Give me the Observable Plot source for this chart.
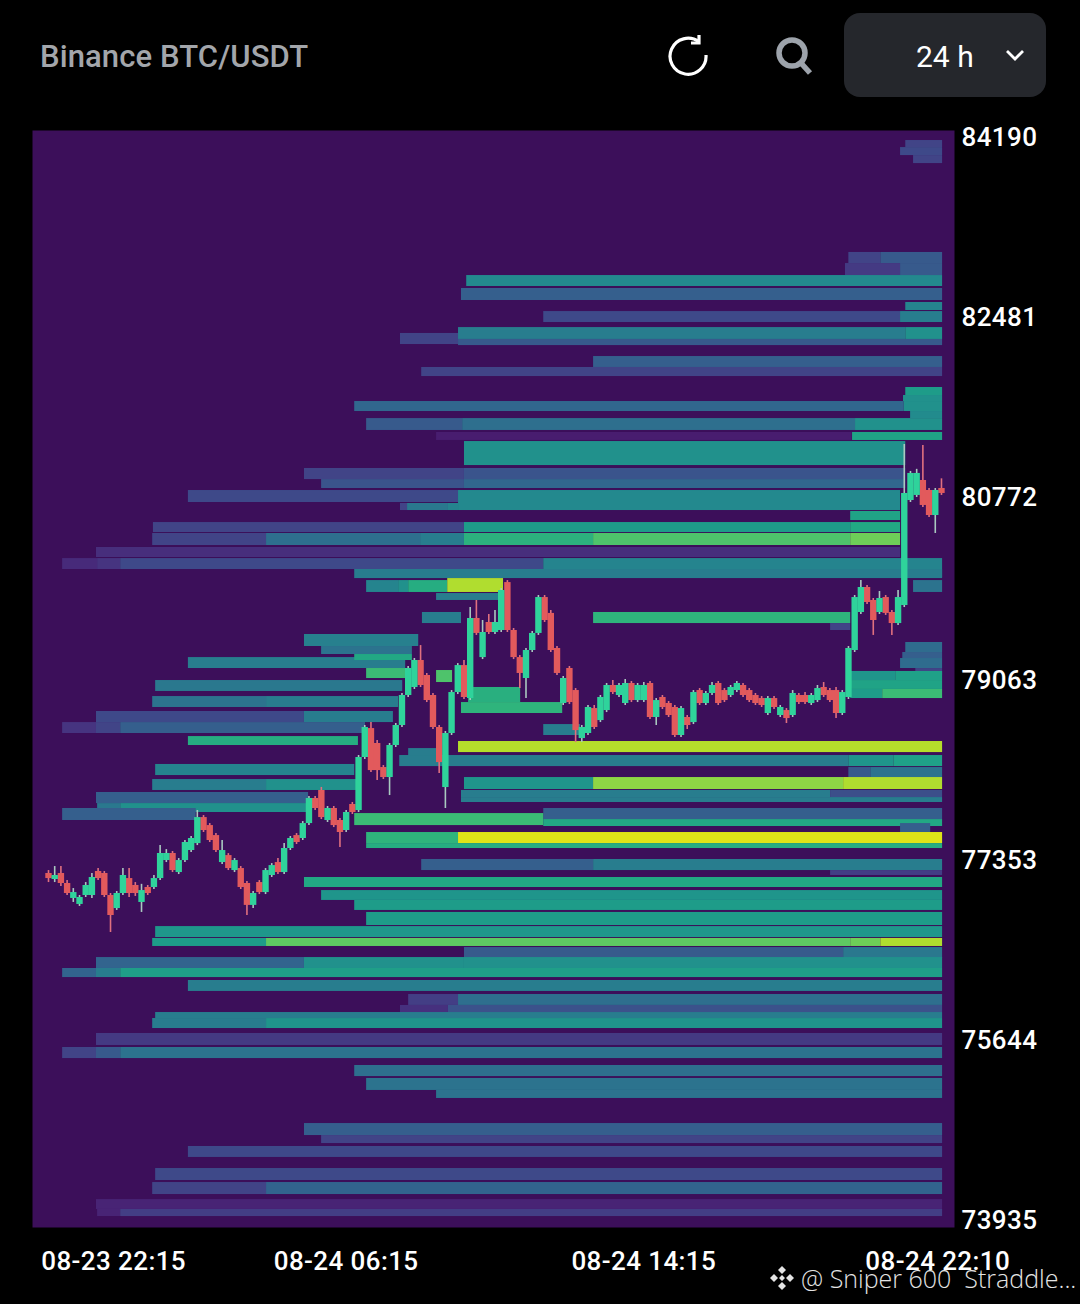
<!DOCTYPE html>
<html><head><meta charset="utf-8">
<script src="https://cdn.jsdelivr.net/npm/d3@7"></script>
<script src="https://cdn.jsdelivr.net/npm/@observablehq/plot@0.6"></script>
<style>
html,body{margin:0;padding:0;background:#000;width:1080px;height:1304px;overflow:hidden}
#page{position:relative;width:1080px;height:1304px;font-family:Roboto,sans-serif}
#head{position:relative;height:130px}
#title{position:absolute;left:40px;top:38px;font-size:31px;line-height:38px;font-weight:500;color:#a3a6ab;letter-spacing:.1px}
#btn{position:absolute;left:844px;top:13px;width:202px;height:84px;background:#25272c;border-radius:16px;color:#fff}
#btn span{position:absolute;left:72px;top:26px;font-size:30px;line-height:36px}
#wm{position:absolute;left:768px;top:1262px;color:#e4e4e4;font:300 25px/32px "Open Sans",sans-serif;white-space:pre;display:flex;align-items:center}
svg{display:block}
</style></head><body>
<div id="page">
<div id="head">
<div id="title">Binance BTC/USDT</div>
<svg style="position:absolute;left:666px;top:33px" width="44" height="44" viewBox="0 0 44 44" fill="none" stroke="#fff" stroke-width="3.2"><path d="M33 9A18 18 0 1 0 40 22"/><path d="M33 2V10H25"/></svg>
<svg style="position:absolute;left:774px;top:35px" width="40" height="42" viewBox="0 0 40 42" fill="none" stroke="#9da3ab" stroke-width="5.5"><circle cx="18" cy="18" r="13"/><path d="M27 28L36 38"/></svg>
<div id="btn"><span>24 h</span><svg style="position:absolute;left:160px;top:36px" width="22" height="14" viewBox="0 0 22 14" fill="none" stroke="#fff" stroke-width="2.8"><path d="M3 2L11 10L19 2"/></svg></div>
</div>
<div id="chart"></div>
<div id="wm"><svg width="28" height="28" viewBox="0 0 28 28" fill="#e4e4e4"><path d="M14 2l4 4-4 4-4-4zM6 10l4 4-4 4-4-4zM22 10l4 4-4 4-4-4zM14 18l4 4-4 4-4-4zM14 11l3 3-3 3-3-3z"/></svg><span style="margin-left:5px">@ Sniper 600  Straddle...</span></div>
</div>
<script>
// x = hours after 08-23 22:15, y = BTC price in USDT.
const priceTickLabels = ["84190", "82481", "80772", "79063", "77353", "75644", "73935"];
const priceTickPlaces = [84190, 82481, 80772, 79035, 77326, 75617, 73908];
const timeTickHours = [1.75, 8, 16, 23.9];
const timeTickLabels = ["08-23 22:15", "08-24 06:15", "08-24 14:15", "08-24 22:10"];

// Liquidity bands: [start hour, end hour, low price, high price, intensity 0..1]
const bandsHigh = [
[23.04,24.03,84095,84162,.2],[22.9,24.03,84019,84095,.22],[23.25,24.03,83943,84019,.2],
[21.51,22.37,82994,83099,.2],[22.37,24.03,82994,83099,.28],
[21.42,22.9,82880,82994,.17],[22.9,24.03,82880,82994,.28],
[11.24,24.03,82776,82880,.47],[11.1,24.03,82643,82757,.3],
[23.04,24.03,82548,82624,.45],
[13.31,22.9,82434,82538,.22],[22.9,24.03,82434,82538,.42],
[9.46,11.02,82225,82330,.2],
[11.02,23.04,82273,82386,.42],[23.04,24.03,82273,82386,.5],
[11.02,24.03,82215,82273,.28],
[14.65,24.03,82007,82111,.3],[10.03,24.03,81921,82007,.2],
[23.04,24.03,81741,81817,.55],[22.98,24.03,81684,81741,.5],
[8.23,23,81589,81684,.33],[23,24.03,81589,81684,.5],
[23.17,24.03,81522,81589,.48],
[8.55,11.13,81409,81522,.28],[11.13,21.69,81409,81522,.36],[21.69,24.03,81409,81522,.5],
[10.43,21.6,81314,81390,.08],[21.61,24.03,81314,81390,.58]
];
const bandsUpperMid = [
[11.18,23.04,81076,81304,.5],
[6.88,11.18,80943,81048,.2],[11.18,23.04,80943,81048,.26],
[7.34,11.18,80858,80943,.26],[11.18,23.04,80858,80943,.33],
[3.76,11.02,80725,80839,.22],[11.02,22.9,80649,80839,.47],
[9.46,9.65,80649,80716,.2],[9.65,10.75,80649,80716,.4],[10.75,11.02,80649,80716,.45],
[21.56,22.9,80554,80640,.58],
[2.82,11.18,80440,80535,.2],[11.18,21.56,80440,80535,.55],[21.56,22.9,80440,80535,.6],
[2.8,5.86,80317,80431,.2],[5.86,10,80317,80431,.36],[10,11.18,80317,80431,.42],[11.18,14.65,80317,80431,.64],[14.65,21.56,80317,80431,.72],[21.56,22.9,80317,80431,.78],
[1.29,22.9,80203,80298,.13],
[.38,1.32,80089,80193,.12],[1.32,1.94,80089,80193,.15],[1.94,13.31,80089,80193,.22],[13.31,24.03,80013,80193,.45],
[8.23,24.03,80003,80089,.42],
[8.55,9.41,79871,79984,.45],[9.41,9.68,79871,79984,.5],[9.68,10.73,79871,79984,.62],[10.73,12.23,79871,80003,.88],
[23.25,24.03,79871,79984,.38],
[10.43,12.15,79795,79861,.42],
[14.65,21.56,79576,79681,.65],[10.05,11.1,79576,79681,.42],
[21.02,21.56,79510,79576,.2]
];
const bandsMid = [
[6.88,9.95,79358,79472,.43],[7.34,9.78,79282,79358,.38],
[3.76,9.6,79149,79253,.42],[8.23,9.78,79225,79282,.6],
[8.55,9.6,79054,79149,.68],[10.43,10.86,79016,79130,.72],
[23.04,24.03,79301,79396,.35],[22.96,24.03,79244,79301,.3],[22.9,24.03,79149,79244,.35],[23.31,24.03,79083,79149,.2],
[2.88,9.52,78931,79035,.4],
[21.56,22.77,79035,79121,.52],[22.77,24.03,79035,79121,.57],
[21.56,24.03,78950,79035,.58],
[21.56,22.42,78864,78950,.55],[22.42,24.03,78864,78950,.68],
[11.29,12.69,78826,78969,.63],[11.1,13.82,78722,78826,.65],
[2.8,5.86,78779,78883,.38],[5.86,9.41,78779,78883,.42],
[1.29,6.88,78636,78741,.22],[6.88,9.27,78636,78741,.42],
[.38,1.29,78532,78636,.15],[1.29,1.94,78532,78636,.2],[1.94,8.52,78532,78636,.3],
[13.31,14.3,78513,78617,.42],
[3.76,8.33,78418,78503,.62],
[11.02,24.03,78351,78456,.89],
[9.68,10.54,78304,78389,.42],
[9.44,21.51,78218,78323,.42],[21.51,22.72,78218,78323,.52],[22.72,24.03,78218,78323,.57],
[2.88,8.23,78133,78238,.45],
[21.51,22.1,78114,78209,.28],[22.1,24.03,78114,78209,.38]
];
const bandsLowerMid = [
[11.18,14.65,78000,78114,.52],[14.65,21.37,78000,78114,.83],[21.37,24.03,78000,78114,.88],
[2.8,5.86,77991,78095,.42],[5.86,8.39,77991,78095,.5],
[11.1,21.02,77924,77991,.42],[21.02,24.03,77924,77991,.24],
[11.1,24.03,77877,77924,.42],
[1.29,6.99,77867,77972,.3],
[1.32,1.94,77782,77867,.4],[1.94,6.99,77782,77867,.5],
[.38,3.97,77706,77820,.3],[13.31,24.03,77715,77820,.3],
[8.23,13.31,77658,77772,.68],[13.31,24.03,77649,77715,.6],
[22.9,23.71,77573,77677,.3],
[8.55,11.02,77487,77592,.65],[11.02,24.03,77487,77592,.95],
[8.55,24.03,77440,77487,.62],
[10.03,14.65,77231,77336,.3],[14.65,24.03,77231,77336,.42],
[21.02,24.03,77184,77231,.18],
[6.88,24.03,77070,77165,.6],[7.34,24.03,76947,77041,.52],[8.23,24.03,76852,76947,.55],[8.55,24.03,76709,76833,.55],
[2.88,24.03,76595,76699,.53],
[2.8,5.86,76510,76586,.55],[5.86,21.56,76510,76586,.75],[21.56,22.37,76510,76586,.78],[22.37,24.03,76510,76586,.88]
];
const bandsLow = [
[11.18,21.37,76396,76500,.28],[21.37,24.03,76396,76500,.4],
[1.29,6.88,76301,76405,.32],[6.88,11.18,76301,76405,.5],[11.18,24.03,76301,76405,.5],
[.38,1.29,76215,76301,.32],[1.29,1.94,76215,76301,.42],[1.94,24.03,76215,76301,.56],
[3.76,24.03,76083,76187,.42],
[9.68,11.02,75950,76054,.18],[11.02,24.03,75950,76054,.36],
[9.46,10.75,75883,75950,.14],[10.75,24.03,75883,75950,.25],
[2.88,24.03,75826,75883,.42],
[2.8,5.86,75731,75826,.42],[5.86,24.03,75731,75826,.52],
[1.29,24.03,75570,75684,.17],
[.38,1.29,75446,75551,.2],[1.29,1.94,75446,75551,.28],[1.94,24.03,75446,75551,.38],
[8.23,24.03,75275,75380,.36],[8.55,24.03,75143,75257,.38],[10.43,24.03,75067,75143,.38],
[6.88,24.03,74715,74829,.3],[7.34,24.03,74639,74715,.2],[3.76,24.03,74507,74611,.22],
[2.88,24.03,74288,74402,.22],
[2.8,5.86,74155,74269,.2],[5.86,24.03,74155,74269,.32],
[1.29,24.03,74013,74107,.1],
[1.32,1.94,73946,74013,.1],[1.94,24.03,73946,74013,.18]
];

// Ten-minute candles
const opens = [77203,77146,77203,77108,76966,76909,76994,76994,77222,77203,76994,76870,77013,77155,77089,76928,77070,77070,77155,77326,77393,77212,77326,77421,77487,77734,77658,77563,77307,77373,77231,77250,77108,76900,77117,77022,77184,77307,77212,77440,77563,77535,77677,77915,77991,77706,77820,77706,77611,77858,77801,78304,78579,78437,78209,78114,78418,78608,78893,78969,79225,79083,78893,78589,78019,78532,78921,79177,78864,79624,79253,79586,79491,79510,79965,79510,79253,79054,79320,79482,79823,79672,79339,78817,79149,78940,78484,78532,78769,78655,78750,78988,78893,78817,79007,78845,78845,79007,78684,78874,78817,78779,78513,78684,78636,78940,78817,78912,79007,78940,78893,78940,78988,78940,78893,78864,78722,78864,78703,78750,78703,78893,78893,78817,78845,78969,78940,78940,78722,78874,79320,79681,79918,79795,79681,79823,79681,79576,79747,80744,80792,80934,80839,80602,80858];
const closes = [77155,77184,77108,77013,77022,76975,77089,77165,77155,76994,76804,77013,77184,77013,77013,77041,77013,77155,77393,77393,77231,77326,77497,77535,77734,77611,77516,77421,77421,77250,77326,77070,76900,77013,77022,77231,77278,77212,77440,77535,77497,77677,77915,77820,77734,77820,77658,77592,77782,77782,78304,78589,78180,78180,78114,78418,78608,78893,79149,79225,78988,78845,78589,78256,78532,78921,79177,78874,79624,79482,79491,79491,79586,79890,79510,79253,79102,79320,79482,79823,79605,79320,79102,79054,78826,78560,78589,78779,78589,78874,78988,78921,78988,79007,78845,78988,78988,78684,78845,78779,78703,78513,78769,78608,78921,78817,78912,78988,78817,78845,78969,79007,78893,78845,78817,78798,78864,78779,78779,78674,78912,78826,78826,78893,78959,78893,78845,78722,78921,79339,79823,79918,79776,79605,79814,79672,79576,79823,80811,81001,81001,80697,80602,80839,80811];
const highs = [77231,77269,77269,77136,77060,76994,77117,77203,77250,77222,77013,77032,77250,77250,77117,77100,77089,77184,77468,77430,77412,77345,77516,77554,77801,77753,77677,77582,77516,77392,77345,77269,77127,77032,77136,77250,77297,77345,77487,77554,77582,77696,77934,77934,78020,77839,77839,77725,77801,77877,78323,78608,78636,78465,78228,78437,78627,78912,79168,79244,79367,79102,78912,78608,78551,78940,79196,79225,79728,79795,79605,79662,79700,79909,79984,79529,79272,79339,79501,79842,79842,79700,79358,79073,79168,78959,78608,78798,78798,78893,79007,79035,79007,79045,79026,79007,79016,79026,78864,78893,78836,78798,78788,78703,78940,78959,78931,79016,79026,78959,78988,79026,79007,78959,78912,78883,78883,78883,78798,78769,78940,78912,78921,78912,78988,79016,78959,78969,78940,79358,79842,79984,79937,79814,79880,79842,79700,79890,81276,81020,81040,81267,80858,80858,80950];
const lows = [77117,77117,77079,76994,76928,76890,76975,76966,77136,76975,76643,76852,76994,76975,76985,76833,76994,77051,77136,77307,77212,77193,77307,77402,77468,77592,77497,77402,77288,77231,77212,77051,76804,76871,77003,77003,77165,77193,77193,77421,77478,77516,77658,77801,77715,77687,77639,77449,77592,77763,77782,78285,78161,78086,78095,77943,78399,78589,78874,78950,78969,78826,78570,78152,77820,78513,78902,78855,78845,79463,79234,79472,79472,79491,79491,79234,78959,78864,79301,79463,79586,79301,79083,78798,78807,78446,78446,78513,78570,78636,78731,78902,78874,78798,78826,78826,78826,78665,78608,78760,78684,78494,78494,78570,78617,78798,78798,78893,78798,78826,78874,78921,78874,78826,78798,78779,78703,78760,78684,78627,78684,78807,78807,78798,78826,78874,78826,78674,78703,78855,79301,79662,79757,79463,79662,79653,79463,79557,79728,80725,80773,80678,80583,80431,80792];

const toBand = ([start, end, low, high, level]) => ({start, end, low, high, level});
const bands = [...bandsHigh, ...bandsUpperMid, ...bandsMid, ...bandsLowerMid, ...bandsLow].map(toBand);
const candles = opens.map((open, i) => ({hour: i / 6, open, close: closes[i], high: highs[i], low: lows[i]}));
const up = candles.filter(d => d.close >= d.open);
const down = candles.filter(d => d.close < d.open);

const chart = Plot.plot({
  width: 1080, height: 1174,
  marginTop: 0, marginBottom: 77, marginLeft: 32, marginRight: 126,
  style: {background: "#000", color: "#fff", fontFamily: "Roboto, sans-serif", fontSize: "26px", fontWeight: 500, overflow: "visible", letterSpacing: "0.4px"},
  x: {domain: [-0.43, 24.35]},
  y: {domain: [73842, 84257]},
  color: {type: "linear", scheme: "viridis", domain: [0, 1]},
  marks: [
    Plot.frame({fill: "#3c0f5a", stroke: null}),
    Plot.rect(bands, {x1: "start", x2: "end", y1: "low", y2: "high", fill: "level"}),
    Plot.ruleX(down, {x: "hour", y1: "low", y2: "high", stroke: "#e0707f", strokeWidth: 1.6}),
    Plot.ruleX(up, {x: "hour", y1: "low", y2: "high", stroke: "#a9c9c0", strokeWidth: 1.6}),
    Plot.ruleX(down, {x: "hour", y1: "open", y2: "close", stroke: "#e25a5c", strokeWidth: 6.4}),
    Plot.ruleX(up, {x: "hour", y1: "open", y2: "close", stroke: "#2fd39b", strokeWidth: 6.4}),
    Plot.axisY({anchor: "right", ticks: priceTickPlaces, tickFormat: (d, i) => priceTickLabels[i], tickSize: 0, tickPadding: 7, label: null}),
    Plot.axisX({anchor: "bottom", ticks: timeTickHours, tickFormat: (d, i) => timeTickLabels[i], tickSize: 0, tickPadding: 24, label: null})
  ]
});
document.getElementById("chart").append(chart);
</script>
</body></html>
